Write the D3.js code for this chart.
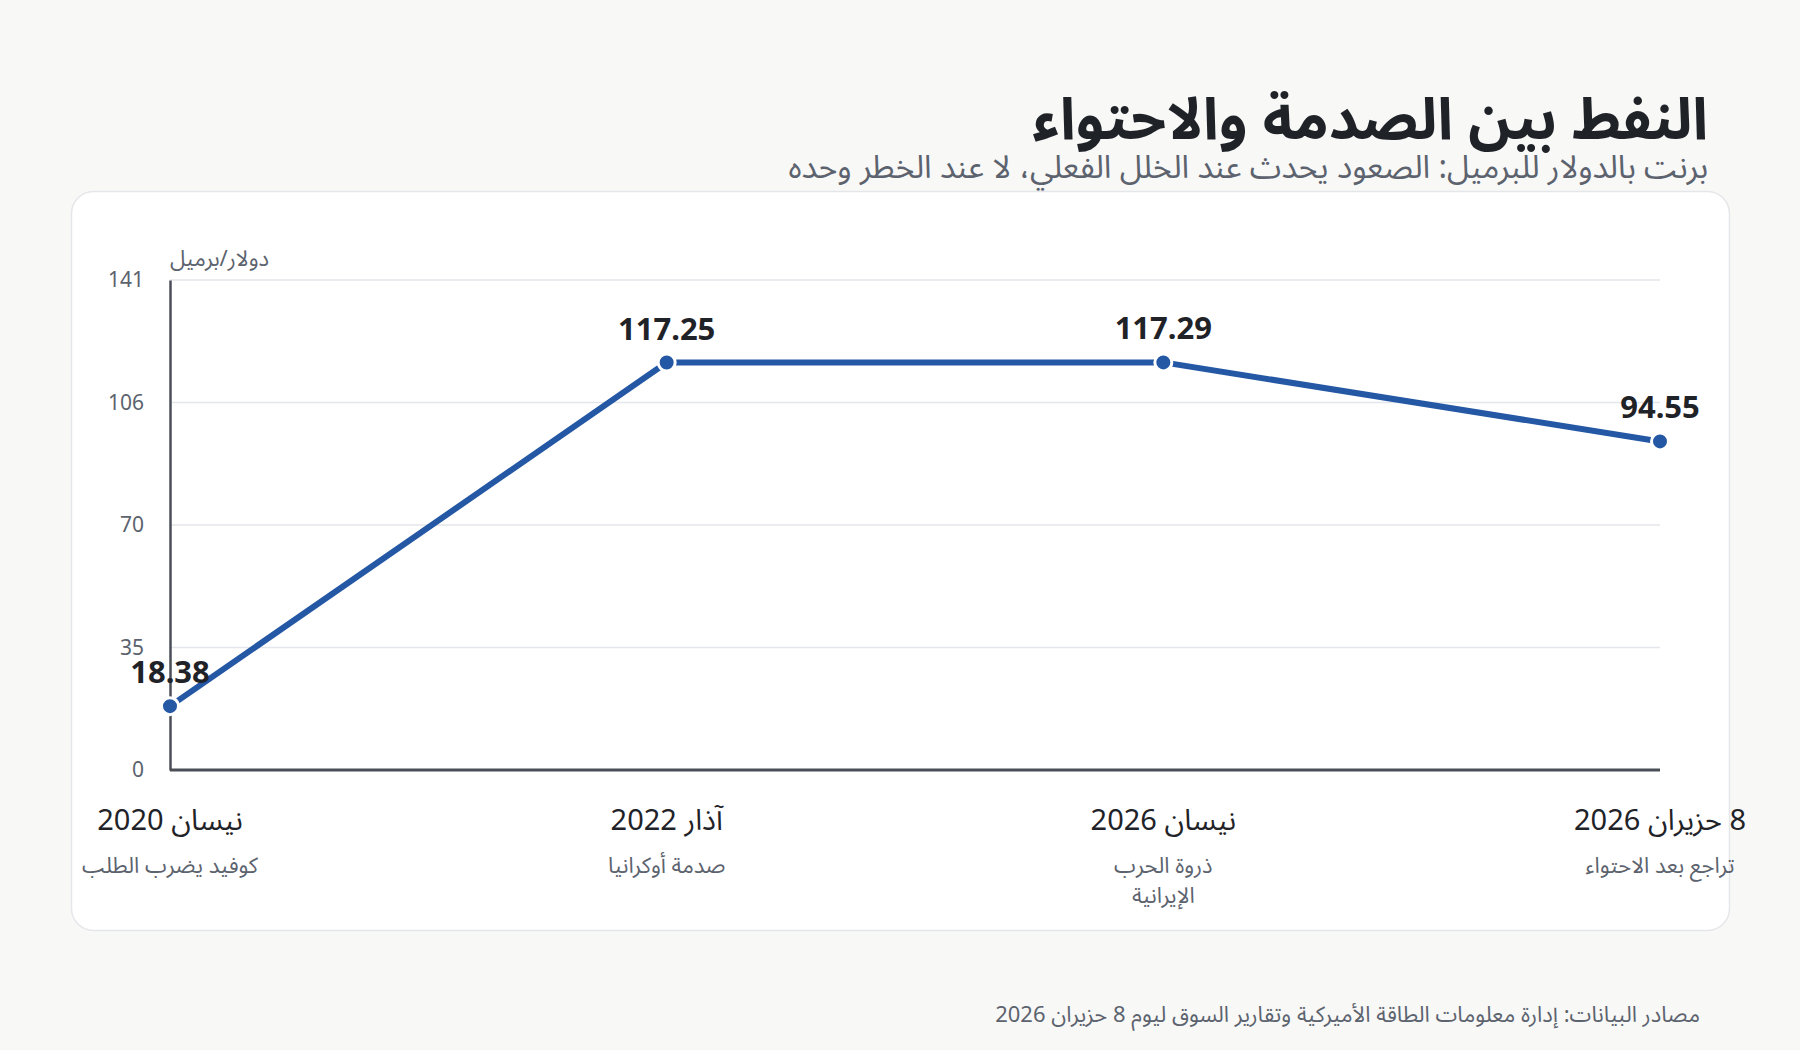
<!DOCTYPE html>
<html lang="ar">
  <head>
    <meta charset="utf-8">
    <title>النفط بين الصدمة والاحتواء</title>
    <script type="text/javascript" src="https://cdn.jsdelivr.net/npm/d3@7"></script>
    <style type="text/css">
        html, body {
            margin: 0;
            padding: 0;
            background: #f8f8f7;
        }
        svg {
            display: block;
            font-family: "Noto Sans", "Noto Sans Arabic", "Noto Sans Arabic UI", "Noto Naskh Arabic", sans-serif;
        }
    </style>
  </head>
  <body>
    <div id="viz"></div>
    <script type="text/javascript">

    // data
    var dates = ["نيسان 2020", "آذار 2022", "نيسان 2026", "8 حزيران 2026"];
    var notes = [["كوفيد يضرب الطلب"], ["صدمة أوكرانيا"], ["ذروة الحرب", "الإيرانية"], ["تراجع بعد الاحتواء"]];
    var brent = [18.38, 117.25, 117.29, 94.55];
    var yTicks = [0, 35.25, 70.5, 105.75, 141];
    var yTickLabels = ["0", "35", "70", "106", "141"];

    var W = 1800, H = 1050;
    var m = {left: 170, right: 1660, top: 280, bottom: 770};

    var svg = d3.select("#viz").append("svg")
        .attr("width", W)
        .attr("height", H);

    // titles
    svg.append("text")
        .attr("x", 1708).attr("y", 139)
        .attr("direction", "rtl").attr("text-anchor", "start")
        .style("font-size", "58px").style("font-weight", "700")
        .style("fill", "#1f2328")
        .text("النفط بين الصدمة والاحتواء");

    svg.append("text")
        .attr("x", 1708).attr("y", 178)
        .attr("direction", "rtl").attr("text-anchor", "start")
        .style("font-size", "32px")
        .style("fill", "#5c636e")
        .text("برنت بالدولار للبرميل: الصعود يحدث عند الخلل الفعلي، لا عند الخطر وحده");

    // card
    svg.append("rect")
        .attr("x", 71.5).attr("y", 191.5)
        .attr("width", 1658).attr("height", 739)
        .attr("rx", 22)
        .style("fill", "#ffffff")
        .style("stroke", "#e4e6e9")
        .style("stroke-width", 1.5);

    var x = d3.scalePoint()
        .domain(d3.range(dates.length))
        .range([m.left, m.right]);

    var y = d3.scaleLinear()
        .domain([0, 141])
        .range([m.bottom, m.top]);

    // grid
    svg.append("g").selectAll("line")
        .data(yTicks.slice(1))
        .enter().append("line")
        .attr("x1", m.left).attr("x2", m.right)
        .attr("y1", function(d) { return y(d); })
        .attr("y2", function(d) { return y(d); })
        .style("stroke", "#e3e6ea")
        .style("stroke-width", 1.5);

    // y axis
    var yAxis = d3.axisLeft(y)
        .tickValues(yTicks)
        .tickSize(0)
        .tickPadding(26)
        .tickFormat(function(d, i) { return yTickLabels[i]; });

    var gy = svg.append("g")
        .attr("transform", "translate(" + m.left + ",0)")
        .call(yAxis);
    gy.select(".domain").style("stroke", "#4a4e57").style("stroke-width", 2.5);
    gy.selectAll("text")
        .style("font-family", "\"Noto Sans\", sans-serif")
        .style("font-size", "21px")
        .style("fill", "#5c636e");

    svg.append("line")
        .attr("x1", m.left).attr("x2", m.right)
        .attr("y1", m.bottom).attr("y2", m.bottom)
        .style("stroke", "#4a4e57")
        .style("stroke-width", 3);

    svg.append("text")
        .attr("x", m.left).attr("y", 266)
        .attr("direction", "rtl").attr("text-anchor", "end")
        .style("font-size", "22px")
        .style("fill", "#5c636e")
        .text("دولار/برميل");

    // x labels
    var gx = svg.append("g");
    gx.selectAll("text.date")
        .data(dates)
        .enter().append("text")
        .attr("class", "date")
        .attr("x", function(d, i) { return x(i); })
        .attr("y", 830)
        .attr("direction", "rtl").attr("text-anchor", "middle")
        .style("font-size", "29px")
        .style("fill", "#1f2328")
        .text(function(d) { return d; });

    gx.selectAll("text.note")
        .data(notes)
        .enter().append("text")
        .attr("class", "note")
        .attr("x", function(d, i) { return x(i); })
        .attr("y", 873)
        .attr("direction", "rtl").attr("text-anchor", "middle")
        .style("font-size", "22px")
        .style("fill", "#5c636e")
        .each(function(d, i) {
            var t = d3.select(this);
            t.selectAll("tspan")
                .data(d)
                .enter().append("tspan")
                .attr("x", x(i))
                .attr("dy", function(s, j) { return j ? 30 : 0; })
                .text(function(s) { return s; });
        });

    // line + points
    var line = d3.line()
        .x(function(d, i) { return x(i); })
        .y(function(d) { return y(d); });

    svg.append("path")
        .datum(brent)
        .attr("d", line)
        .style("fill", "none")
        .style("stroke", "#2457a4")
        .style("stroke-width", 6)
        .style("stroke-linejoin", "round");

    svg.append("g").selectAll("circle")
        .data(brent)
        .enter().append("circle")
        .attr("cx", function(d, i) { return x(i); })
        .attr("cy", function(d) { return y(d); })
        .attr("r", 8.5)
        .style("fill", "#2457a4")
        .style("stroke", "#ffffff")
        .style("stroke-width", 3);

    svg.append("g").selectAll("text")
        .data(brent)
        .enter().append("text")
        .attr("x", function(d, i) { return x(i); })
        .attr("y", function(d) { return y(d) - 23; })
        .attr("text-anchor", "middle")
        .style("font-size", "31px").style("font-weight", "700")
        .style("fill", "#1f2328")
        .text(function(d) { return d.toFixed(2); });

    // source
    svg.append("text")
        .attr("x", 1700).attr("y", 1022)
        .attr("direction", "rtl").attr("text-anchor", "start")
        .style("font-size", "22px")
        .style("fill", "#5c636e")
        .text("مصادر البيانات: إدارة معلومات الطاقة الأميركية وتقارير السوق ليوم 8 حزيران 2026");

    </script>
  </body>
</html>
